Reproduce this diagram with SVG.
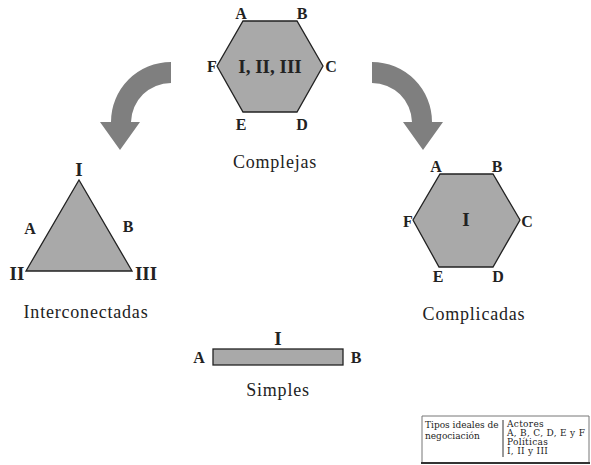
<svg xmlns="http://www.w3.org/2000/svg" width="591" height="465" viewBox="0 0 591 465">
<style>
.shape{fill:#a9a9a9;stroke:#222;stroke-width:1.3}
.arrow{fill:#7f7f7f}
.lbl{font-family:"Liberation Serif",serif;font-weight:bold;font-size:16px;fill:#222;text-anchor:middle}
.num{font-family:"Liberation Serif",serif;font-weight:bold;font-size:19px;fill:#222;text-anchor:middle}
.title{font-family:"Liberation Serif",serif;font-size:18px;letter-spacing:0.8px;fill:#222;text-anchor:middle}
.leg{font-family:"DejaVu Serif",serif;font-size:9px;fill:#222}
.legr{letter-spacing:0.3px}
</style>
<rect width="591" height="465" fill="#fff"/>
<g id="connectors">
<path class="arrow" d="M171,62 A60,60 0 0 0 111,122 L100,122 L120,150 L140,122 L131,122 A40,40 0 0 1 171,83 Z"/>
<path class="arrow" d="M372,62 A60,60 0 0 1 432,122 L443,122 L423,150 L403,122 L412,122 A40,40 0 0 0 372,83 Z"/>
</g>
<g id="complejas">
<polygon class="shape" points="243,21 297,21 323,66 297,112 243,112 217,66"/>
<text class="num" x="270" y="73" font-size="21">I, II, III</text>
<text class="lbl" x="241" y="19">A</text>
<text class="lbl" x="302" y="19">B</text>
<text class="lbl" x="331" y="72">C</text>
<text class="lbl" x="212" y="72">F</text>
<text class="lbl" x="241" y="130">E</text>
<text class="lbl" x="302" y="130">D</text>
<text class="title" x="275" y="168">Complejas</text>
</g>
<g id="interconectadas">
<polygon class="shape" points="79,180 132,271 26,271"/>
<text class="num" x="79" y="176">I</text>
<text class="lbl" x="30" y="234">A</text>
<text class="lbl" x="128" y="232">B</text>
<text class="num" x="17" y="280">II</text>
<text class="num" x="146" y="280">III</text>
<text class="title" x="86" y="318">Interconectadas</text>
</g>
<g id="complicadas">
<polygon class="shape" points="440,174 493,174 520,220 493,267 439,267 413,220"/>
<text class="num" x="466" y="226">I</text>
<text class="lbl" x="436" y="172">A</text>
<text class="lbl" x="497" y="172">B</text>
<text class="lbl" x="527" y="227">C</text>
<text class="lbl" x="408" y="227">F</text>
<text class="lbl" x="438" y="282">E</text>
<text class="lbl" x="498" y="282">D</text>
<text class="title" x="474" y="320">Complicadas</text>
</g>
<g id="simples">
<rect class="shape" x="213" y="349" width="130" height="16"/>
<text class="num" x="278" y="345">I</text>
<text class="lbl" x="199" y="363">A</text>
<text class="lbl" x="356" y="363">B</text>
<text class="title" x="278" y="396">Simples</text>
</g>
<g id="legend">
<line x1="422" y1="416" x2="589" y2="416" stroke="#777" stroke-width="1"/>
<line x1="422" y1="416" x2="422" y2="463" stroke="#777" stroke-width="1"/>
<line x1="589" y1="416" x2="589" y2="463" stroke="#777" stroke-width="1"/>
<line x1="421" y1="463" x2="590" y2="463" stroke="#333" stroke-width="2"/>
<line x1="503" y1="420" x2="503" y2="457" stroke="#333" stroke-width="1"/>
<text class="leg" x="425" y="428">Tipos ideales de</text>
<text class="leg" x="425" y="439">negociación</text>
<text class="leg legr" x="507" y="427">Actores</text>
<text class="leg legr" x="507" y="436">A, B, C, D, E y F</text>
<text class="leg legr" x="507" y="445">Políticas</text>
<text class="leg legr" x="507" y="454">I, II y III</text>
</g>
</svg>
